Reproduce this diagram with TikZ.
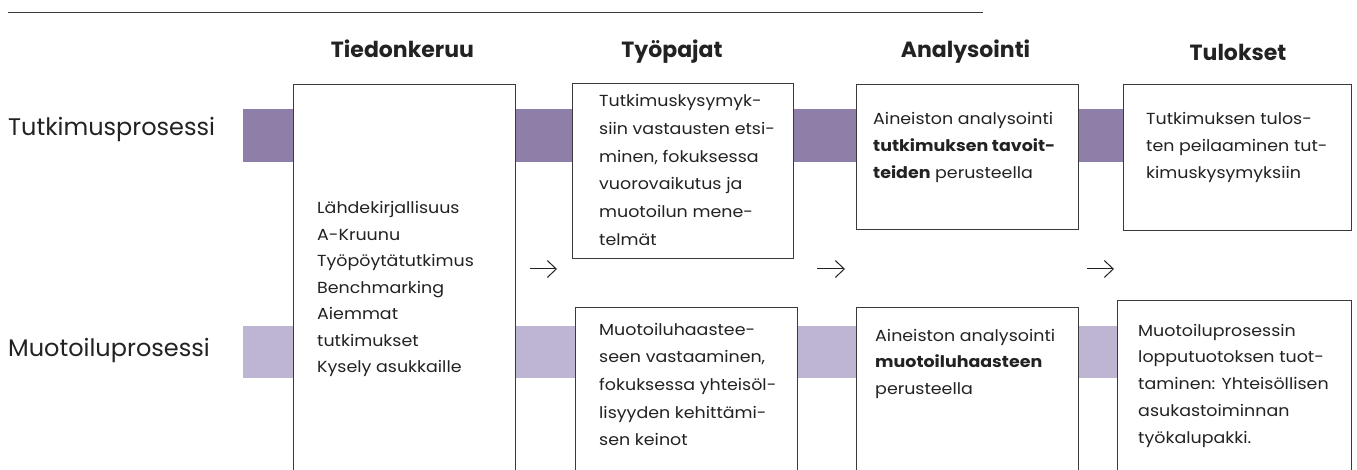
\documentclass[tikz,border=0pt]{standalone}
\usepackage{fontspec}
\setmainfont{Poppins}
\newfontfamily\wide[FakeStretch=1.09]{Poppins}
\usetikzlibrary{arrows.meta}
\definecolor{bandA}{HTML}{8E7FA9}
\definecolor{bandB}{HTML}{BDB5D2}
\definecolor{ink}{HTML}{222222}
\definecolor{edge}{HTML}{3A3A3A}
\newcommand\lns[2]{\vtop{\baselineskip=#1pt\lineskiplimit=-40pt\lineskip=0pt #2}}
\newcommand\li[1]{\hbox{#1}}
\begin{document}
\begin{tikzpicture}[x=1pt,y=-1pt,
  box/.style={draw=edge, line width=1.1pt, fill=white, anchor=north west, inner sep=0pt},
  body/.style={anchor=base west, inner sep=0pt, text=ink, font=\wide\fontsize{16}{26.7}\selectfont},
  head/.style={anchor=base, inner sep=0pt, text=ink, font=\fontsize{22}{26}\selectfont\bfseries},
  lab/.style={anchor=base west, inner sep=0pt, text=ink, font=\fontsize{24}{28}\selectfont},
  arr/.style={draw=ink, line width=1pt, -{Straight Barb[length=9pt,width=17pt,line width=1pt]}}]
\useasboundingbox (0,0) rectangle (1357,470);
% top rule
\coordinate (r0) at (8,12.3);
\coordinate (r1) at (983,12.3);
\draw[edge, line width=1.3pt] (r0) -- (r1);
% bands
\fill[bandA] (243,109) rectangle (1351,162);
\fill[bandB] (243,326) rectangle (1351,378);
% boxes
\node[box, minimum width=222pt, minimum height=400pt] (b1) at (293,84) {};
\node[box, minimum width=221pt, minimum height=175pt] (w1) at (572,83) {};
\node[box, minimum width=222pt, minimum height=200pt] (w2) at (575,307) {};
\node[box, minimum width=222pt, minimum height=145pt] (a1) at (856,84) {};
\node[box, minimum width=222pt, minimum height=200pt] (a2) at (856,307) {};
\node[box, minimum width=228pt, minimum height=146pt] (t1) at (1123,84) {};
\node[box, minimum width=234pt, minimum height=200pt] (t2) at (1117,300) {};
% headings
\node[head] (h1) at (402.5,58) {Tiedonkeruu};
\node[head] (h2) at (672,58) {Työpajat};
\node[head] (h3) at (965.5,58) {Analysointi};
\node[head] (h4) at (1238,61) {Tulokset};
% row labels
\node[lab] (l1) at (8,136) {Tutkimusprosessi};
\node[lab] (l2) at (8,356.7) {Muotoiluprosessi};
% box texts
\node[body] (b1t) at (317,214) {\lns{26.5}{\li{Lähdekirjallisuus}\li{A-Kruunu}\li{Työpöytätutkimus}\li{Benchmarking}\li{Aiemmat}\li{tutkimukset}\li{Kysely asukkaille}}};
\node[body] (w1t) at (599,106.7) {\lns{27.7}{\li{Tutkimuskysymyk-}\li{siin vastausten etsi-}\li{minen, fokuksessa}\li{vuorovaikutus ja}\li{muotoilun mene-}\li{telmät}}};
\node[body] (w2t) at (599,335) {\lns{27.7}{\li{Muotoiluhaastee-}\li{seen vastaaminen,}\li{fokuksessa yhteisöl-}\li{lisyyden kehittämi-}\li{sen keinot}}};
\node[body] (a1t) at (873,125) {\lns{26.7}{\li{Aineiston analysointi}\li{\textbf{tutkimuksen tavoit-}}\li{\textbf{teiden} perusteella}}};
\node[body] (a2t) at (875,341) {\lns{26.7}{\li{Aineiston analysointi}\li{\textbf{muotoiluhaasteen}}\li{perusteella}}};
\node[body] (t1t) at (1146,125) {\lns{26.7}{\li{Tutkimuksen tulos-}\li{ten peilaaminen tut-}\li{kimuskysymyksiin}}};
\node[body] (t2t) at (1138,336) {\lns{26.8}{\li{Muotoiluprosessin}\li{lopputuotoksen tuot-}\li{taminen: Yhteisöllisen}\li{asukastoiminnan}\li{työkalupakki.}}};
% arrows
\coordinate (p1) at (530,269); \coordinate (q1) at (557,269);
\coordinate (p2) at (817,269); \coordinate (q2) at (845,269);
\coordinate (p3) at (1087,269); \coordinate (q3) at (1114,269);
\draw[arr] (p1) -- (q1);
\draw[arr] (p2) -- (q2);
\draw[arr] (p3) -- (q3);
\end{tikzpicture}
\end{document}
